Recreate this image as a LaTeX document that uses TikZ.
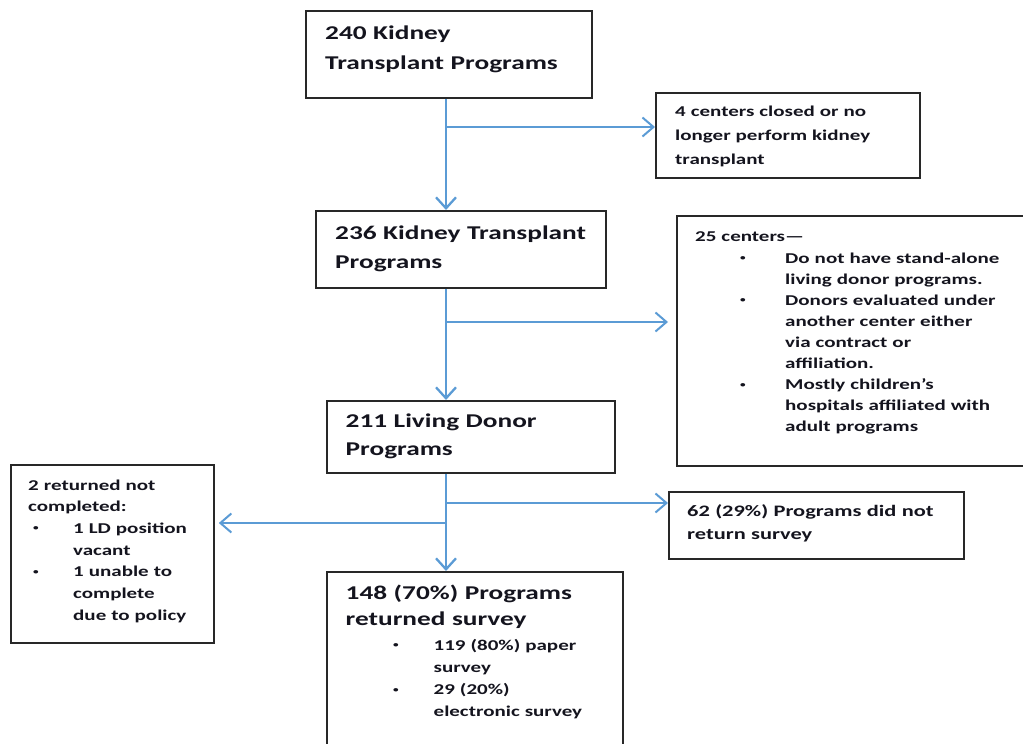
\documentclass[tikz,border=0pt]{standalone}
\usepackage{fontspec}
\setmainfont{Carlito}[FakeStretch=1.4]
\usetikzlibrary{arrows.meta}
\definecolor{arrowblue}{RGB}{91,155,213}
\definecolor{boxline}{RGB}{40,40,40}
\definecolor{ink}{RGB}{20,20,30}
\newcommand{\bl}[2]{\hspace*{#1}\makebox[#2][l]{\raisebox{2.5pt}{\fontsize{8}{8}\selectfont\textbullet}}}
\tikzset{
  box/.style={draw=boxline, line width=1.8pt, anchor=north west, inner sep=0pt, fill=white},
  txt/.style={anchor=base west, inner sep=0pt, align=left, text=ink, text width=#1},
  conn/.style={draw=arrowblue, line width=2.3pt, -{Straight Barb[length=11pt,width=20pt]}},
  branch/.style={draw=arrowblue, line width=2pt, -{Straight Barb[length=11pt,width=19pt]}},
}
\begin{document}
\begin{tikzpicture}[x=1pt,y=-1pt]
\useasboundingbox (0,0) rectangle (1023,744);
% boxes
\node[box, minimum width=286pt, minimum height=87pt] (a) at (305,10) {};
\node[box, minimum width=264pt, minimum height=85pt] (b) at (655,92) {};
\node[box, minimum width=290pt, minimum height=77pt] (c) at (315,210) {};
\node[box, minimum width=360pt, minimum height=250pt] (d) at (676,215) {};
\node[box, minimum width=288pt, minimum height=72pt] (e) at (326,400) {};
\node[box, minimum width=295pt, minimum height=67pt] (f) at (668,491) {};
\node[box, minimum width=203pt, minimum height=178pt] (g) at (10,464) {};
\node[box, minimum width=296pt, minimum height=200pt] (h) at (326,571) {};
% texts
\node[txt=260pt, font=\fontsize{19.5}{30}\selectfont\bfseries] (at) at (325,39.5)
  {240 Kidney\\Transplant Programs};
\node[txt=240pt, font=\fontsize{15}{24}\selectfont\bfseries] (bt) at (675,116)
  {4 centers closed or no\\longer perform kidney\\transplant};
\node[txt=270pt, font=\fontsize{19.5}{29}\selectfont\bfseries] (ct) at (335,239.5)
  {236 Kidney Transplant\\Programs};
\node[txt=330pt, font=\fontsize{15}{21.1}\selectfont\bfseries] (dt) at (695,241)
  {25 centers—\\[1pt]
   \bl{45pt}{45pt}Do not have stand-alone\\
   \hspace*{90pt}living donor programs.\\
   \bl{45pt}{45pt}Donors evaluated under\\
   \hspace*{90pt}another center either\\
   \hspace*{90pt}via contract or\\
   \hspace*{90pt}affiliation.\\
   \bl{45pt}{45pt}Mostly children’s\\
   \hspace*{90pt}hospitals affiliated with\\
   \hspace*{90pt}adult programs};
\node[txt=270pt, font=\fontsize{19.5}{28.5}\selectfont\bfseries] (et) at (345.5,427)
  {211 Living Donor\\Programs};
\node[txt=270pt, font=\fontsize{16}{23}\selectfont\bfseries] (ft) at (687,516)
  {62 (29\%) Programs did not\\return survey};
\node[txt=185pt, font=\fontsize{15}{21.7}\selectfont\bfseries] (gt) at (28,490)
  {2 returned not\\completed:\\
   \bl{5pt}{40pt}1 LD position\\
   \hspace*{45pt}vacant\\
   \bl{5pt}{40pt}1 unable to\\
   \hspace*{45pt}complete\\
   \hspace*{45pt}due to policy};
\node[txt=270pt, font=\fontsize{19.5}{26}\selectfont\bfseries] (ht) at (345.5,599)
  {148 (70\%) Programs\\returned survey};
\node[txt=250pt, font=\fontsize{15}{22.3}\selectfont\bfseries] (hl) at (345.5,650)
  {\bl{47.5pt}{40.5pt}119 (80\%) paper\\
   \hspace*{88pt}survey\\
   \bl{47.5pt}{40.5pt}29 (20\%)\\
   \hspace*{88pt}electronic survey};
% connectors
\coordinate (spine) at (446,0);
\coordinate (j1) at (446,127);
\coordinate (j2) at (446,322);
\coordinate (j3) at (446,503);
\coordinate (j4) at (446,523);
\draw[conn] (a.south -| spine) -- (c.north -| spine);
\draw[conn] (c.south -| spine) -- (e.north -| spine);
\draw[conn] (e.south -| spine) -- (h.north -| spine);
\draw[branch] (j1) -- (j1 -| b.west);
\draw[branch, shorten >=8pt] (j2) -- (j2 -| d.west);
\draw[branch] (j3) -- (j3 -| f.west);
\draw[branch, shorten >=4pt] (j4) -- (j4 -| g.east);
\end{tikzpicture}
\end{document}
